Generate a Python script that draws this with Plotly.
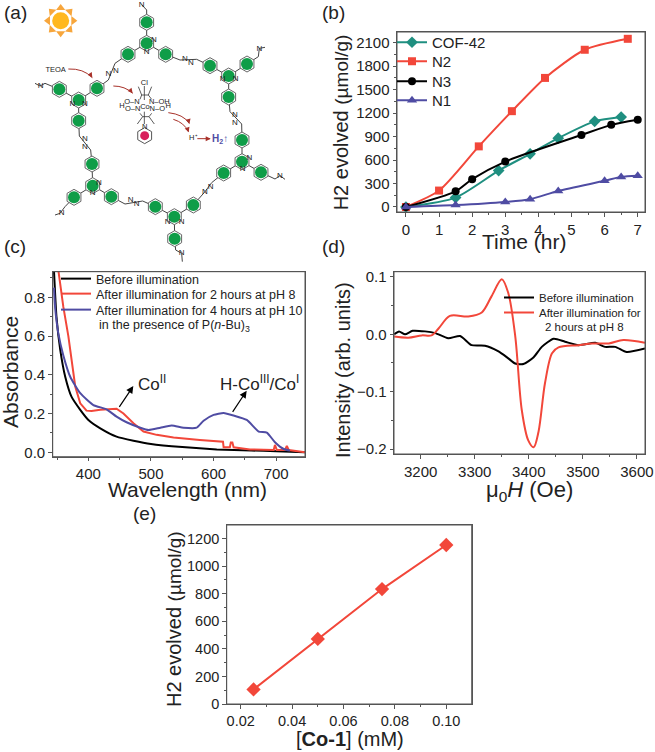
import plotly.graph_objects as go

W, H = 655, 752
FONT = "Liberation Sans"
RED, TEAL, PURPLE, GREEN = "#f2473a", "#1f8f80", "#4f4ca3", "#0f9d48"
AX = "#555555"

# ---- panel (b)
cof_t = [0, 1.5, 2.8, 3.75, 4.6, 5.7, 6.5]
cof_h2 = [0, 120, 465, 680, 880, 1095, 1150]
n2_t = [0, 1, 2.2, 3.2, 4.2, 5.4, 6.7]
n2_h2 = [0, 210, 775, 1225, 1650, 2010, 2150]
n3_t = [0, 1.5, 2, 3, 5.3, 6.2, 7]
n3_h2 = [0, 200, 355, 580, 920, 1050, 1115]
n1_t = [0, 1.5, 3, 3.75, 4.6, 6, 6.5, 7]
n1_h2 = [0, 25, 65, 100, 205, 335, 385, 400]

# ---- panel (c)
blk_wl = [345, 349, 355, 363, 373, 387, 400, 419, 445, 472, 500, 550, 605, 660, 700, 746]
blk_abs = [0.94, 0.70, 0.53, 0.39, 0.287, 0.219, 0.167, 0.124, 0.081, 0.06, 0.043, 0.027, 0.015, 0.009, 0.006, 0.0]
red_wl = [352, 360, 368, 379, 387, 397, 405, 419, 445, 456, 472, 488, 509, 536, 578, 615, 616, 626, 627.5, 630, 632, 658, 696, 698, 701, 714, 717, 720, 746]
red_abs = [0.94, 0.75, 0.6, 0.34, 0.253, 0.215, 0.213, 0.22, 0.225, 0.2, 0.15, 0.107, 0.09, 0.076, 0.064, 0.055, 0.026, 0.026, 0.05, 0.05, 0.026, 0.015, 0.012, 0.038, 0.012, 0.012, 0.033, 0.012, 0.0]
blu_wl = [345, 347, 352, 360, 371, 387, 408, 429, 445, 461, 483, 496, 515, 533, 552, 573, 584, 600, 616, 632, 653, 672, 685, 698, 712, 722]
blu_abs = [0.85, 0.743, 0.614, 0.50, 0.39, 0.305, 0.244, 0.222, 0.184, 0.155, 0.127, 0.115, 0.127, 0.138, 0.127, 0.127, 0.163, 0.193, 0.203, 0.19, 0.167, 0.107, 0.102, 0.052, 0.017, 0.009]

# ---- panel (d)
epr_blk_h = [3151, 3160, 3171, 3185, 3208, 3227, 3251, 3273, 3294, 3319, 3344, 3362, 3375, 3390, 3409, 3424, 3446, 3467, 3492, 3523, 3541, 3560, 3581, 3615]
epr_blk_i = [0, .005, 0, .006, .005, .002, -.007, -.003, -.019, -.020, -.030, -.042, -.051, -.052, -.040, -.022, -.008, -.013, -.019, -.015, -.022, -.022, -.031, -.025]
epr_red_h = [3151, 3177, 3202, 3220, 3233, 3254, 3288, 3313, 3331, 3350, 3362, 3375, 3387, 3399, 3409, 3418, 3430, 3443, 3455, 3492, 3517, 3548, 3575, 3615]
epr_red_i = [-.004, -.006, -.002, -.002, .010, .032, .031, .038, .066, .096, .072, -.004, -.132, -.185, -.197, -.170, -.085, -.033, -.023, -.019, -.016, -.016, -.010, -.015]

# ---- panel (e)
co_conc = [0.025, 0.05, 0.075, 0.10]
co_h2 = [106, 472, 834, 1154]

# ---- panel (a) schematic, on a 3x sheet
rings_x = [440, 384, 497, 630, 741, 686, 726, 671, 783, 580, 466, 524, 334, 222, 276, 236, 178, 291]
rings_y = [67, 163, 163, 197, 192, 291, 420, 519, 517, 615, 620, 716, 590, 592, 492, 362, 268, 265]
tri_x = [440, 686, 726, 523, 278, 236]
tri_y = [130, 228, 485, 650, 557, 300]
bonds = [
    [(425, 14), (440, 30), (440, 130)], [(384, 163), (440, 130), (497, 163)],
    [(291, 265), (325, 240), (345, 190), (384, 163)], [(497, 163), (540, 180), (590, 178), (630, 197)],
    [(630, 197), (686, 228), (741, 192)], [(741, 192), (775, 170), (778, 145), (795, 142)],
    [(686, 228), (686, 291), (690, 335), (725, 372), (726, 420), (726, 485)],
    [(671, 519), (726, 485), (783, 517), (825, 537), (840, 527), (855, 538)],
    [(671, 519), (635, 548), (615, 575), (580, 615), (523, 650), (466, 620), (428, 603), (375, 612), (334, 590), (278, 557), (222, 592), (195, 620), (180, 640), (165, 645)],
    [(523, 650), (524, 716), (527, 750), (545, 760), (547, 785)],
    [(278, 557), (276, 492), (272, 450), (238, 408), (236, 362), (236, 300)],
    [(178, 268), (236, 300), (291, 265)], [(178, 268), (135, 250), (120, 258), (105, 250)],
]
n_x = [462, 440, 668, 707, 748, 728, 503, 545, 297, 278, 217, 255, 325, 348, 555, 573, 705, 705, 615, 632, 392, 410, 255, 255, 425, 778, 840, 545, 185, 122]
n_y = [120, 155, 238, 238, 475, 507, 665, 665, 548, 580, 312, 312, 222, 212, 176, 190, 345, 368, 575, 560, 600, 613, 418, 440, 14, 148, 527, 760, 640, 258]
complex_bonds = [
    [(433, 258), (433, 300)], [(415, 260), (425, 285), (445, 285), (455, 260)],
    [(425, 285), (420, 298)], [(445, 285), (455, 298)],
    [(420, 340), (428, 350), (447, 350), (455, 340)], [(428, 350), (412, 372)], [(447, 350), (463, 372)],
    [(433, 335), (433, 372)],
]
complex_labels = [("Cl", 433, 248), ("O–N", 396, 305), ("N–OH", 478, 305), ("H", 366, 317), ("O–N", 398, 328),
                  ("N–O", 472, 328), ("H", 505, 318), ("Co", 435, 320), ("N", 434, 380), ("TEOA", 167, 210), ("H⁺", 580, 415)]
curves = ["M 205,207 Q 250,205 277,233", "M 340,258 Q 375,258 398,280", "M 505,338 Q 550,343 568,370", "M 520,358 Q 553,368 565,395", "M 592,416 L 630,416"]
tips = [(277, 233, 270, 222), (398, 280, 390, 270), (568, 372, 565, 360), (566, 397, 562, 385), (632, 416, 622, 416)]
sun_x = [182]
sun_y = [62]
ray_x = [182, 209, 220, 209, 182, 155, 144, 155]
ray_y = [24, 35, 62, 89, 100, 89, 62, 35]
ray_angle = [0, 45, 90, 135, 180, 225, 270, 315]

boxes = {"b": (397, 645, 32, 212), "c": (52.7, 305, 271.7, 456.7), "d": (394, 645, 271.7, 454), "e": (226.7, 471.7, 525, 704)}


def dom(k):
    l, r, t, b = boxes[k]
    return [l / W, r / W], [1 - b / H, 1 - t / H]


def axis(domain, anchor, rng, dtick, minor, tick0=0, size=15, fmt=None):
    d = dict(domain=domain, anchor=anchor, range=rng, dtick=dtick, tick0=tick0, showgrid=False, zeroline=False,
             showline=True, mirror=True, linecolor=AX, linewidth=1, ticks="outside", ticklen=3.5, tickwidth=1,
             tickcolor=AX, tickfont=dict(family=FONT, size=size, color="#222222"), automargin=False,
             minor=dict(dtick=minor, tick0=tick0, ticks="outside", ticklen=2, tickwidth=1, tickcolor=AX, showgrid=False))
    if fmt:
        d["tickformat"] = fmt
    return d


fig = go.Figure()


def line(x, y, name, color, ax, legend=None, width=2, shape="spline", symbol=None, msize=9, smoothing=0.7):
    fig.add_trace(go.Scatter(
        x=x, y=y, name=name, xaxis="x" + ax, yaxis="y" + ax,
        mode="lines+markers" if symbol else "lines",
        line=dict(color=color, width=width, shape=shape, **({"smoothing": smoothing} if shape == "spline" else {})),
        marker=dict(symbol=symbol, size=msize, color=color) if symbol else None,
        legend=legend, showlegend=legend is not None))


line(cof_t, cof_h2, "COF-42", TEAL, "", "legend", symbol="diamond", msize=9)
line(n2_t, n2_h2, "N2", RED, "", "legend2", symbol="square", msize=8)
line(n3_t, n3_h2, "N3", "#000000", "", "legend3", symbol="circle", msize=8)
line(n1_t, n1_h2, "N1", PURPLE, "", "legend4", symbol="triangle-up", msize=9)

line(blk_wl, blk_abs, "Before illumination", "#000000", "2", "legend5", smoothing=0.5)
line(red_wl, red_abs, "After illumination for 2 hours at pH 8", RED, "2", "legend6", shape="linear")
line(blu_wl, blu_abs, "After illumination for 4 hours at pH 10", PURPLE, "2", "legend7", smoothing=0.5)

line(epr_blk_h, epr_blk_i, "Before illumination", "#000000", "3", "legend8", smoothing=0.6)
line(epr_red_h, epr_red_i, "After illumination for", RED, "3", "legend9", smoothing=0.9)

line(co_conc, co_h2, "H2", RED, "4", None, shape="linear", symbol="diamond", msize=11)

# schematic on a page-sized overlay
for seg in bonds:
    fig.add_trace(go.Scatter(x=[p[0] for p in seg], y=[p[1] for p in seg], xaxis="x5", yaxis="y5", mode="lines",
                             line=dict(color="#444444", width=1), showlegend=False, hoverinfo="skip"))
for seg in complex_bonds:
    fig.add_trace(go.Scatter(x=[p[0] for p in seg], y=[p[1] for p in seg], xaxis="x5", yaxis="y5", mode="lines",
                             line=dict(color="#333333", width=0.8), showlegend=False, hoverinfo="skip"))
for xs, ys in ((rings_x, rings_y), (tri_x, tri_y)):
    fig.add_trace(go.Scatter(x=xs, y=ys, xaxis="x5", yaxis="y5", mode="markers",
                             marker=dict(symbol="hexagon", size=16, color="#ffffff", line=dict(color="#666666", width=1)),
                             showlegend=False, hoverinfo="skip"))
    fig.add_trace(go.Scatter(x=xs, y=ys, xaxis="x5", yaxis="y5", mode="markers",
                             marker=dict(symbol="circle", size=12, color=GREEN), showlegend=False, hoverinfo="skip"))
fig.add_trace(go.Scatter(x=n_x, y=n_y, xaxis="x5", yaxis="y5", mode="text", text=["N"] * len(n_x),
                         textfont=dict(family=FONT, size=8, color="#222222"), showlegend=False, hoverinfo="skip"))
# pyridine ring of the complex
fig.add_trace(go.Scatter(x=[434], y=[407], xaxis="x5", yaxis="y5", mode="markers",
                         marker=dict(symbol="hexagon", size=16, color="#ffffff", line=dict(color="#555555", width=1)),
                         showlegend=False, hoverinfo="skip"))
fig.add_trace(go.Scatter(x=[434], y=[407], xaxis="x5", yaxis="y5", mode="markers",
                         marker=dict(symbol="circle", size=9, color="#d81e5b"), showlegend=False, hoverinfo="skip"))
fig.add_trace(go.Scatter(x=[c[1] for c in complex_labels], y=[c[2] for c in complex_labels], xaxis="x5", yaxis="y5",
                         mode="text", text=[c[0] for c in complex_labels],
                         textfont=dict(family=FONT, size=7.5, color="#222222"), showlegend=False, hoverinfo="skip"))
# sun
fig.add_trace(go.Scatter(x=ray_x, y=ray_y, xaxis="x5", yaxis="y5", mode="markers",
                         marker=dict(symbol="triangle-up", size=8, color="#f7a63c", angle=ray_angle), showlegend=False, hoverinfo="skip"))
fig.add_trace(go.Scatter(x=sun_x, y=sun_y, xaxis="x5", yaxis="y5", mode="markers",
                         marker=dict(symbol="circle", size=17, color="#ffb81f"), showlegend=False, hoverinfo="skip"))

annotations = []


def note(x, y, text, size, color="#222222", **kw):
    annotations.append(dict(x=x, y=y, xref="x5", yref="y5", text=text, showarrow=False,
                            font=dict(family=FONT, size=size, color=color), **kw))


for txt, x, y in [("(a)", 45, 38), ("(b)", 1000, 38), ("(c)", 45, 738), ("(d)", 1000, 738), ("(e)", 432, 1540)]:
    note(x, y, txt, 19)
note(660, 417, "<b>H<sub>2</sub>↑</b>", 10, PURPLE)
note(455, 1150, "Co<sup>II</sup>", 17)
note(778, 1150, "H-Co<sup>III</sup>/Co<sup>I</sup>", 17)
note(290, 978, "in the presence of P(<i>n</i>-Bu)<sub>3</sub>", 12.5, xanchor="left")
note(1629, 980, "2 hours at pH 8", 11.5, xanchor="left")

# axis titles
ytitle = 'H2 evolved <span style="font-size:19px">(µmol/g)</span>'
note(1572, 723, "Time (hr)", 21)
note(1023, 367, ytitle, 20, textangle=-90)
note(562, 1467, "Wavelength (nm)", 21)
note(30, 1116, "Absorbance", 21, textangle=-90)
note(1587, 1473, "μ<sub>0</sub><i>H</i> (Oe)", 22)
note(1029, 1110, "Intensity (arb. units)", 20, textangle=-90)
note(1050, 2217, "[<b>Co-1</b>] (mM)", 20)
note(522, 1857, ytitle, 20, textangle=-90)

for x, y, ax_, ay_ in tips:
    annotations.append(dict(x=x, y=y, ax=ax_, ay=ay_, xref="x5", yref="y5", axref="x5", ayref="y5", text="", showarrow=True,
                            arrowhead=2, arrowsize=1, arrowwidth=1, arrowcolor="#a8322a"))
for x, y, ax_, ay_ in [(400, 1158, 355, 1225), (740, 1172, 695, 1240)]:
    annotations.append(dict(x=x, y=y, ax=ax_, ay=ay_, xref="x5", yref="y5", axref="x5", ayref="y5", text="", showarrow=True,
                            arrowhead=2, arrowsize=1.2, arrowwidth=1.2, arrowcolor="#000000"))

shapes = [dict(type="path", path=p, xref="x5", yref="y5", line=dict(color="#a8322a", width=1)) for p in curves]
for k, (l, r, t, b) in boxes.items():
    shapes.append(dict(type="rect", xref="paper", yref="paper", x0=l / W, x1=r / W, y0=1 - b / H, y1=1 - t / H,
                       line=dict(color=AX, width=1), layer="above"))

dbx, dby = dom("b")
dcx, dcy = dom("c")
ddx, ddy = dom("d")
dex, dey = dom("e")


def leg(x, top, size):
    return dict(x=x / W, y=1 - top / H, xanchor="left", yanchor="top", font=dict(size=size, family=FONT, color="#222222"),
                bgcolor="rgba(0,0,0,0)", itemwidth=30)


fig.update_layout(
    width=W, height=H, margin=dict(l=0, r=0, t=0, b=0, autoexpand=False), paper_bgcolor="#ffffff", plot_bgcolor="rgba(0,0,0,0)",
    font=dict(family=FONT, color="#222222"), showlegend=True, hovermode=False,
    annotations=annotations, shapes=shapes,
    xaxis=axis(dbx, "y", [-0.27, 7.22], 1, 0.5),
    yaxis=axis(dby, "x", [-64, 2237], 300, 150),
    xaxis2=axis(dcx, "y2", [343, 746], 100, 50),
    yaxis2=axis(dcy, "x2", [-0.0227, 0.932], 0.2, 0.1, fmt=".1f"),
    xaxis3=axis(ddx, "y3", [3150.6, 3615], 100, 50),
    yaxis3=axis(ddy, "x3", [-0.2087, 0.109], 0.1, 0.05, fmt=".1f"),
    xaxis4=axis(dex, "y4", [0.01455, 0.1099], 0.02, 0.01, size=14.5, fmt=".2f"),
    yaxis4=axis(dey, "x4", [0, 1299], 200, 100, size=14.5),
    xaxis5=dict(domain=[0, 1], anchor="y5", range=[0, 3 * W], visible=False, fixedrange=True),
    yaxis5=dict(domain=[0, 1], anchor="x5", range=[3 * H, 0], visible=False, fixedrange=True),
    legend=leg(392, 26, 15), legend2=leg(392, 45, 15), legend3=leg(392, 65, 15), legend4=leg(392, 84, 15),
    legend5=leg(56, 264, 12.5), legend6=leg(56, 279, 12.5), legend7=leg(56, 295, 12.5),
    legend8=leg(499, 283, 11.5), legend9=leg(499, 298, 11.5),
)

fig.write_html("out.html", config=dict(displayModeBar=False), post_script="document.body.style.margin='0';")
